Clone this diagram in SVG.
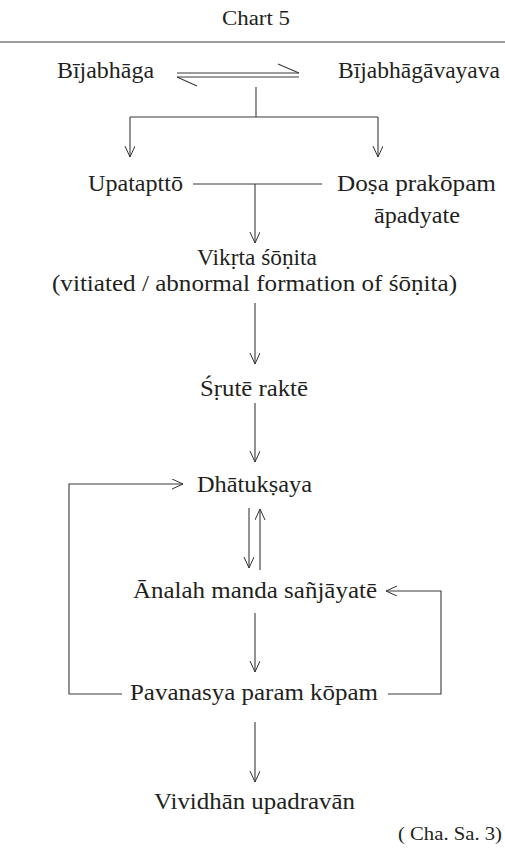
<svg xmlns="http://www.w3.org/2000/svg" width="505" height="848" viewBox="0 0 505 848">
<defs>
<marker id="ah" markerUnits="userSpaceOnUse" markerWidth="14" markerHeight="12" refX="11" refY="5" orient="auto">
<path d="M0,0 L11,5 L0,10" fill="none" stroke="#333" stroke-width="1"/>
</marker>
<style>
text{font-family:'Liberation Serif',serif;font-size:23px;fill:#231f20}
.ln{stroke:#3a3a3a;stroke-width:1.1;fill:none}
.ar{stroke:#3a3a3a;stroke-width:1.1;fill:none;marker-end:url(#ah)}
</style>
</defs>
<rect width="505" height="848" fill="#fff"/>
<g id="title">
<text x="222" y="25" style="font-size:20px" textLength="68" lengthAdjust="spacingAndGlyphs">Chart 5</text>
<line class="ln" x1="0" y1="42" x2="505" y2="42"/>
</g>
<g id="n-bijabhaga"><text x="57" y="78" textLength="97" lengthAdjust="spacingAndGlyphs">Bījabhāga</text></g>
<g id="n-bijabhagavayava"><text x="338" y="78" textLength="162" lengthAdjust="spacingAndGlyphs">Bījabhāgāvayava</text></g>
<g id="n-upataptto"><text x="88" y="191" textLength="95" lengthAdjust="spacingAndGlyphs">Upatapttō</text></g>
<g id="n-dosa">
<text x="337" y="191" textLength="159" lengthAdjust="spacingAndGlyphs">Doṣa prakōpam</text>
<text x="374" y="223" textLength="86" lengthAdjust="spacingAndGlyphs">āpadyate</text>
</g>
<g id="n-vikrta">
<text x="197" y="265" textLength="120" lengthAdjust="spacingAndGlyphs">Vikṛta śōṇita</text>
<text x="52" y="291" textLength="405" lengthAdjust="spacingAndGlyphs">(vitiated / abnormal formation of śōṇita)</text>
</g>
<g id="n-srute"><text x="200" y="396" textLength="108" lengthAdjust="spacingAndGlyphs">Śṛutē raktē</text></g>
<g id="n-dhatuksaya"><text x="197" y="492" textLength="115" lengthAdjust="spacingAndGlyphs">Dhātukṣaya</text></g>
<g id="n-analah"><text x="133" y="598" textLength="244" lengthAdjust="spacingAndGlyphs">Ānalah manda sañjāyatē</text></g>
<g id="n-pavanasya"><text x="130" y="700" textLength="248" lengthAdjust="spacingAndGlyphs">Pavanasya param kōpam</text></g>
<g id="n-vividhan"><text x="154" y="809" textLength="201" lengthAdjust="spacingAndGlyphs">Vividhān upadravān</text></g>
<g id="ref"><text x="398" y="840" style="font-size:18px" textLength="104" lengthAdjust="spacingAndGlyphs">( Cha. Sa. 3)</text></g>
<g id="connectors">
<line class="ln" x1="177" y1="73" x2="299" y2="73"/>
<line class="ln" x1="299" y1="73" x2="278" y2="64"/>
<line class="ln" x1="177" y1="77" x2="299" y2="77"/>
<line class="ln" x1="177" y1="77" x2="197" y2="86"/>
<line class="ln" x1="256" y1="87" x2="256" y2="117"/>
<line class="ln" x1="130" y1="117" x2="378" y2="117"/>
<line class="ar" x1="130" y1="117" x2="130" y2="157"/>
<line class="ar" x1="378" y1="117" x2="378" y2="157"/>
<line class="ln" x1="193" y1="184" x2="322" y2="184"/>
<line class="ar" x1="255" y1="184" x2="255" y2="243"/>
<line class="ar" x1="255" y1="303" x2="255" y2="364"/>
<line class="ar" x1="255" y1="403" x2="255" y2="462"/>
<path class="ar" d="M122,694 H69 V484 H183"/>
<line class="ar" x1="249" y1="508" x2="249" y2="568"/>
<line class="ar" x1="260" y1="570" x2="260" y2="509"/>
<path class="ar" d="M388,694 H441 V591 H386"/>
<line class="ar" x1="255" y1="613" x2="255" y2="672"/>
<line class="ar" x1="255" y1="722" x2="255" y2="782"/>
</g>
</svg>
